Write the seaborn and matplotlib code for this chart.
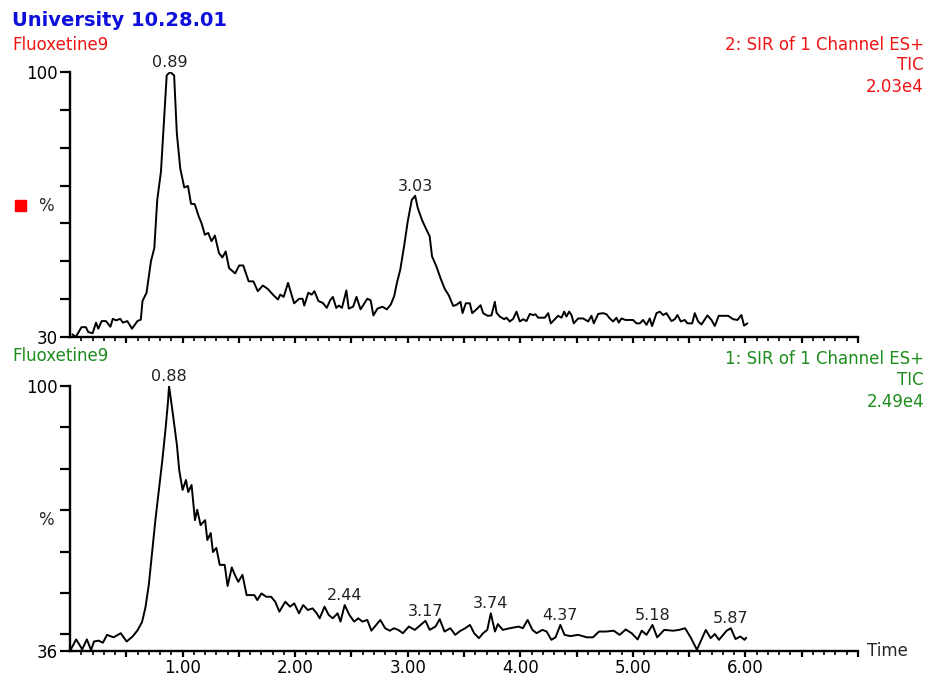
import numpy as np
import matplotlib
matplotlib.use("Agg")
import matplotlib.pyplot as plt
import seaborn as sns
from matplotlib.patches import Rectangle
from matplotlib.ticker import FixedLocator, FuncFormatter

# ---------------- data ----------------
# channel 2 (top panel), retention time in minutes / relative intensity in %
top_time = [0.021, 0.051, 0.102, 0.141, 0.162, 0.201, 0.231, 0.251, 0.281, 0.320,
            0.359, 0.380, 0.410, 0.446, 0.470, 0.509, 0.551, 0.599, 0.629, 0.644,
            0.680, 0.719, 0.749, 0.775, 0.808, 0.829, 0.859, 0.889, 0.925, 0.949,
            0.979, 1.015, 1.048, 1.075, 1.108, 1.144, 1.168, 1.198, 1.228, 1.257,
            1.287, 1.323, 1.353, 1.383, 1.413, 1.467, 1.503, 1.539, 1.587, 1.629,
            1.668, 1.713, 1.757, 1.802, 1.847, 1.868, 1.898, 1.937, 1.991, 2.036,
            2.066, 2.081, 2.117, 2.147, 2.171, 2.207, 2.246, 2.281, 2.311, 2.335,
            2.365, 2.389, 2.416, 2.455, 2.476, 2.515, 2.545, 2.581, 2.641, 2.671,
            2.695, 2.731, 2.775, 2.814, 2.850, 2.880, 2.904, 2.934, 2.970, 3.000,
            3.036, 3.066, 3.090, 3.126, 3.156, 3.195, 3.216, 3.254, 3.293, 3.329,
            3.365, 3.404, 3.433, 3.469, 3.487, 3.516, 3.552, 3.573, 3.611, 3.647,
            3.670, 3.709, 3.744, 3.774, 3.789, 3.818, 3.857, 3.877, 3.907, 3.937,
            3.966, 3.996, 4.026, 4.055, 4.085, 4.114, 4.135, 4.159, 4.188, 4.218,
            4.248, 4.271, 4.307, 4.336, 4.366, 4.390, 4.410, 4.434, 4.455, 4.475,
            4.514, 4.558, 4.603, 4.632, 4.653, 4.692, 4.736, 4.766, 4.795, 4.825,
            4.854, 4.875, 4.899, 4.934, 4.973, 5.002, 5.032, 5.061, 5.091, 5.121,
            5.150, 5.171, 5.210, 5.239, 5.269, 5.298, 5.343, 5.372, 5.396, 5.426,
            5.461, 5.485, 5.527, 5.550, 5.580, 5.609, 5.663, 5.698, 5.728, 5.763,
            5.846, 5.891, 5.929, 5.964, 5.988, 6.017]
top_pct = [30.7, 30.0, 32.6, 32.6, 31.3, 31.0, 33.8, 32.2, 34.2, 34.2,
           32.7, 34.8, 34.4, 34.8, 33.8, 34.2, 32.2, 34.2, 34.6, 39.5,
           41.7, 50.0, 53.5, 66.2, 73.7, 84.2, 99.1, 100.0, 99.1, 83.8,
           74.6, 69.5, 69.9, 65.2, 65.1, 61.8, 60.1, 57.0, 57.5, 55.3,
           56.8, 52.2, 51.0, 52.6, 48.2, 46.8, 48.9, 48.9, 44.7, 44.7,
           42.1, 43.6, 42.7, 41.2, 39.9, 41.2, 40.6, 44.3, 38.9, 40.1,
           40.1, 38.3, 41.7, 41.2, 42.1, 39.5, 39.0, 37.7, 39.7, 40.6,
           37.7, 38.3, 37.7, 42.3, 37.5, 38.0, 40.6, 37.3, 40.1, 39.7,
           35.7, 37.5, 38.0, 37.3, 38.6, 40.8, 44.3, 47.8, 54.4, 60.5,
           66.2, 67.3, 64.0, 61.0, 59.0, 56.6, 51.3, 48.7, 45.4, 42.7,
           41.0, 38.2, 38.5, 39.3, 36.3, 38.9, 38.9, 36.3, 37.3, 38.4,
           36.3, 35.6, 35.7, 39.3, 36.4, 35.4, 34.7, 35.1, 34.1, 34.8,
           36.7, 34.1, 34.7, 34.2, 36.1, 35.8, 36.0, 35.1, 35.1, 35.1,
           36.3, 33.6, 34.7, 35.6, 35.1, 36.7, 35.4, 36.7, 35.8, 33.6,
           34.9, 34.9, 34.1, 35.6, 33.6, 36.1, 36.3, 36.0, 34.9, 34.1,
           35.1, 33.8, 34.9, 34.5, 34.5, 34.5, 33.6, 33.6, 34.5, 33.2,
           34.9, 32.9, 36.3, 36.7, 35.8, 36.3, 34.2, 34.7, 35.8, 34.1,
           34.5, 33.6, 33.6, 36.3, 34.1, 33.3, 35.7, 34.5, 32.9, 35.6,
           35.6, 34.7, 34.5, 35.8, 33.0, 33.6]

# channel 1 (bottom panel)
bot_time = [0.002, 0.055, 0.108, 0.150, 0.187, 0.213, 0.255, 0.292, 0.329, 0.387,
            0.451, 0.503, 0.556, 0.600, 0.640, 0.670, 0.700, 0.730, 0.760, 0.790,
            0.820, 0.850, 0.870, 0.880, 0.910, 0.950, 0.970, 1.000, 1.030, 1.050,
            1.080, 1.110, 1.130, 1.160, 1.200, 1.220, 1.250, 1.270, 1.300, 1.330,
            1.374, 1.400, 1.437, 1.464, 1.495, 1.532, 1.569, 1.638, 1.664, 1.701,
            1.743, 1.786, 1.823, 1.860, 1.912, 1.955, 1.992, 2.034, 2.071, 2.113,
            2.155, 2.192, 2.218, 2.261, 2.298, 2.334, 2.377, 2.403, 2.440, 2.482,
            2.524, 2.561, 2.598, 2.641, 2.677, 2.720, 2.757, 2.799, 2.841, 2.878,
            2.915, 2.957, 3.010, 3.063, 3.115, 3.158, 3.195, 3.247, 3.284, 3.327,
            3.379, 3.422, 3.464, 3.511, 3.553, 3.590, 3.633, 3.670, 3.707, 3.738,
            3.775, 3.801, 3.844, 3.907, 3.986, 4.023, 4.065, 4.108, 4.144, 4.197,
            4.234, 4.276, 4.313, 4.356, 4.393, 4.445, 4.514, 4.593, 4.646, 4.699,
            4.762, 4.830, 4.883, 4.936, 4.989, 5.042, 5.079, 5.121, 5.174, 5.216,
            5.279, 5.358, 5.411, 5.464, 5.517, 5.569, 5.648, 5.691, 5.728, 5.765,
            5.833, 5.870, 5.912, 5.955, 5.992, 6.007]
bot_pct = [36.1, 38.8, 36.4, 38.8, 36.2, 38.3, 38.5, 38.0, 39.9, 39.3,
           40.3, 38.3, 39.5, 41.0, 43.0, 46.5, 52.0, 60.0, 68.0, 75.0,
           82.0, 90.0, 96.0, 100.0, 94.0, 85.7, 79.7, 74.9, 77.3, 74.4,
           76.1, 67.6, 70.1, 66.4, 67.6, 62.8, 64.5, 59.9, 60.9, 56.8,
           56.8, 51.7, 56.2, 54.4, 52.7, 54.4, 49.5, 49.5, 48.3, 49.9,
           49.1, 49.1, 47.9, 45.5, 47.9, 46.7, 47.5, 45.1, 47.1, 45.9,
           46.3, 45.1, 43.9, 46.7, 44.7, 43.9, 45.1, 43.1, 47.1, 44.7,
           43.1, 43.9, 43.1, 43.5, 40.9, 42.3, 43.5, 41.5, 40.9, 41.5,
           41.1, 40.3, 41.9, 41.1, 42.3, 43.3, 41.1, 41.9, 43.7, 40.7,
           41.5, 39.9, 40.8, 41.5, 42.3, 40.3, 39.1, 40.3, 41.1, 45.1,
           40.7, 42.5, 41.1, 41.5, 41.9, 41.5, 43.5, 41.1, 40.3, 41.1,
           40.7, 38.7, 39.3, 42.3, 39.9, 39.6, 39.9, 39.3, 39.3, 40.7,
           40.7, 40.9, 39.9, 41.2, 40.3, 38.8, 40.9, 39.9, 42.3, 39.3,
           41.1, 40.9, 41.1, 41.5, 39.1, 36.3, 41.1, 39.1, 40.1, 38.7,
           40.9, 41.5, 38.9, 39.5, 38.7, 39.2]

top_peaks = ["0.89", "3.03"]
bot_peaks = ["0.88", "2.44", "3.17", "3.74", "4.37", "5.18", "5.87"]

top_info = ["2: SIR of 1 Channel ES+", "TIC", "2.03e4"]
bot_info = ["1: SIR of 1 Channel ES+", "TIC", "2.49e4"]
x_labels = ["1.00", "2.00", "3.00", "4.00", "5.00", "6.00"]

RED = "#f01414"
GREEN = "#1e8c1e"
BLUE = "#0f0fdc"

# ---------------- figure ----------------
sns.set_style("ticks")
plt.rcParams["font.family"] = ["DejaVu Sans"]

W, H = 929, 680
fig = plt.figure(figsize=(W / 100, H / 100), dpi=100)

def fx(px):
    return px / W

def fy(py):
    return 1 - py / H

ax_top = fig.add_axes([fx(70), fy(337), fx(858) - fx(70), fy(72) - fy(337)])
ax_bot = fig.add_axes([fx(70), fy(651), fx(858) - fx(70), fy(386) - fy(651)])


def draw_panel(ax, t, y, ymin, peaks, show_x):
    sns.lineplot(x=t, y=y, ax=ax, color="black", linewidth=1.4, sort=False)
    ax.set_xlim(0, 7.0)
    ax.set_ylim(ymin, 100)
    sns.despine(ax=ax)
    for s in ["left", "bottom"]:
        ax.spines[s].set_linewidth(1.7)
        ax.spines[s].set_color("black")

    yt = sorted(set([ymin] + list(range(int(np.ceil(ymin / 10.0)) * 10, 101, 10))))
    ax.yaxis.set_major_locator(FixedLocator(yt))
    ax.yaxis.set_major_formatter(FuncFormatter(
        lambda v, p: "%d" % v if v in (ymin, 100) else ""))

    ax.xaxis.set_major_locator(FixedLocator(np.arange(0.5, 7.01, 0.5)))
    ax.xaxis.set_minor_locator(FixedLocator(np.arange(0.1, 7.01, 0.1)))
    if show_x:
        ax.xaxis.set_major_formatter(FuncFormatter(
            lambda v, p: "%.2f" % v if "%.2f" % v in x_labels else ""))
    else:
        ax.xaxis.set_major_formatter(FuncFormatter(lambda v, p: ""))

    ax.tick_params(axis="y", which="major", direction="out", length=7,
                   width=1.6, labelsize=12, colors="black", pad=2)
    ax.tick_params(axis="x", which="major", direction="out", length=4.5,
                   width=1.6, labelsize=12, colors="black", pad=1.5)
    ax.tick_params(axis="x", which="minor", direction="out", length=2.6, width=1.4)
    ax.set_xlabel("")
    ax.set_ylabel("")

    # peak apex labels
    ta = np.array(t)
    ya = np.array(y)
    for lab in peaks:
        rt = float(lab)
        m = np.abs(ta - rt) < 0.05
        i = np.where(m)[0][np.argmax(ya[m])]
        ax.annotate(lab, (ta[i], ya[i]), xytext=(0, 1.5), textcoords="offset points",
                    ha="center", va="bottom", fontsize=11.5, color="#222222",
                    annotation_clip=False)


draw_panel(ax_top, top_time, top_pct, 30, top_peaks, False)
draw_panel(ax_bot, bot_time, bot_pct, 36, bot_peaks, True)

ax_bot.text(1.012, 0.0, "Time", transform=ax_bot.transAxes, ha="left",
            va="center", fontsize=12)

# header texts
fig.text(fx(12), fy(21), "University 10.28.01", color=BLUE, fontsize=14,
         fontweight="bold", ha="left", va="center")
fig.text(fx(12), fy(45), "Fluoxetine9", color=RED, fontsize=12, ha="left", va="center")
fig.text(fx(12), fy(356), "Fluoxetine9", color=GREEN, fontsize=12, ha="left", va="center")

for txt, py in zip(top_info, [45, 65, 87]):
    fig.text(fx(924), fy(py), txt, color=RED, fontsize=12, ha="right", va="center")
for txt, py in zip(bot_info, [359, 380, 402]):
    fig.text(fx(924), fy(py), txt, color=GREEN, fontsize=12, ha="right", va="center")

fig.text(fx(46), fy(206), "%", fontsize=12, ha="center", va="center")
fig.text(fx(46), fy(520), "%", fontsize=12, ha="center", va="center")
fig.patches.append(Rectangle((fx(15), fy(211)), fx(11), fy(200) - fy(211),
                             transform=fig.transFigure, color="red", zorder=5))

fig.savefig("out.png", dpi=100, facecolor="white")
